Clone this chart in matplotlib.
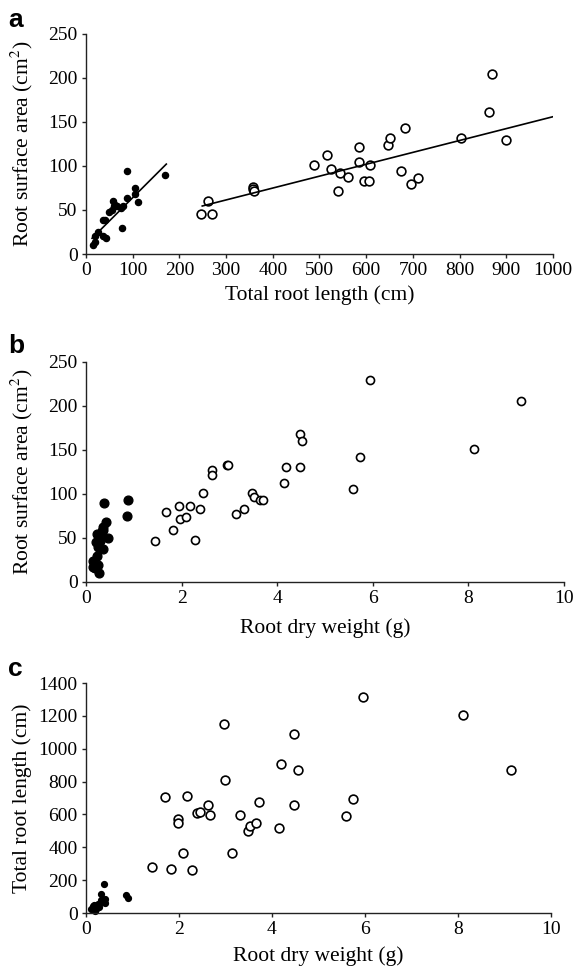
import numpy as np
import matplotlib
matplotlib.use('Agg')
import matplotlib.pyplot as plt

plt.rcParams['font.family'] = 'Liberation Serif'
plt.rcParams['mathtext.fontset'] = 'stix'

# Panel a: root length (cm) vs surface area (cm2)
a_closed_len = [14, 19, 19, 26, 37, 41, 36, 42, 50, 55, 57, 62, 66, 59, 76, 79, 77, 87, 87, 105, 105, 112, 169]
a_closed_area = [10, 14, 21, 25, 39, 39, 20, 18, 48, 50, 60, 56, 54, 54, 52, 55, 30, 94, 64, 75, 68, 59, 90]
a_open_len = [247, 262, 269, 357, 357, 360, 489, 517, 524, 544, 540, 562, 585, 585, 595, 606, 609,
              646, 650, 674, 683, 697, 712, 804, 862, 869, 900]
a_open_area = [46, 60, 46, 76, 74, 72, 101, 112, 97, 92, 72, 87, 122, 105, 83, 83, 101,
               124, 132, 94, 143, 79, 86, 132, 161, 205, 130]
# regression lines: slope, intercept, x range
a_closed_fit = (0.53, 11.0, 13, 172)
a_open_fit = (0.1351, 20.9, 249, 1000)

# Panel b: root dry weight (g) vs surface area (cm2)
b_closed_wt = [0.38, 0.88, 0.85, 0.41, 0.35, 0.22, 0.47, 0.29, 0.26, 0.35, 0.22, 0.15, 0.15, 0.26,
               0.28, 0.19, 0.33, 0.36, 0.28, 0.21]
b_closed_area = [90, 93, 75, 68, 59, 55, 50, 47, 40, 38, 30, 24, 17, 19, 10, 16, 58, 62, 51, 45]
b_open_wt = [1.44, 1.68, 1.81, 1.94, 1.97, 2.09, 2.18, 2.29, 2.38, 2.45, 2.64, 2.64, 2.94, 2.98,
             3.14, 3.31, 3.47, 3.51, 3.64, 3.71, 4.14, 4.18, 4.48, 4.51, 4.48, 5.58, 5.74, 5.95,
             8.11, 9.11]
b_open_area = [46, 79, 59, 86, 72, 74, 86, 48, 83, 101, 127, 122, 133, 133, 77, 83, 101, 97, 93,
               93, 113, 131, 168, 160, 131, 106, 142, 229, 151, 206]

# Panel c: root dry weight (g) vs total root length (cm)
c_closed_wt = [0.39, 0.33, 0.40, 0.85, 0.91, 0.36, 0.25, 0.18, 0.15, 0.22, 0.29, 0.20, 0.41, 0.33,
               0.16, 0.11]
c_closed_len = [176, 118, 87, 107, 93, 67, 57, 47, 32, 26, 37, 12, 61, 77, 41, 26]
c_open_wt = [1.43, 1.71, 1.83, 1.98, 1.98, 2.08, 2.18, 2.28, 2.38, 2.45, 2.63, 2.67, 2.97, 3.00,
             3.13, 3.31, 3.48, 3.52, 3.66, 3.72, 4.16, 4.20, 4.47, 4.47, 4.55, 5.60, 5.74, 5.95,
             8.10, 9.13]
c_open_len = [278, 704, 268, 570, 546, 365, 712, 260, 607, 617, 655, 594, 1148, 809, 365, 596,
              499, 530, 548, 673, 519, 907, 1089, 655, 868, 588, 694, 1315, 1207, 868]


def style_axes(ax):
    ax.spines['top'].set_visible(False)
    ax.spines['right'].set_visible(False)
    for s in ['left', 'bottom']:
        ax.spines[s].set_linewidth(1.0)
        ax.spines[s].set_color('#222222')
    ax.tick_params(direction='out', length=3, width=1.0, labelsize=14, pad=3, color='#222222')


def open_pts(ax, x, y, ms=6.2):
    ax.plot(x, y, 'o', ls='none', mfc='white', mec='black', mew=1.2, ms=ms, clip_on=False)


def closed_pts(ax, x, y, ms=4.4):
    ax.plot(x, y, 'o', ls='none', color='black', ms=ms, clip_on=False)


fig = plt.figure(figsize=(5.74, 9.68), dpi=100)

# a
ax = fig.add_axes([0.1498, 0.7376, 0.8136, 0.2273])
closed_pts(ax, a_closed_len, a_closed_area, ms=4.4)
open_pts(ax, a_open_len, a_open_area, ms=6.3)
for slope, icpt, x0, x1 in [a_closed_fit, a_open_fit]:
    xl = np.array([x0, x1])
    ax.plot(xl, slope * xl + icpt, color='black', lw=1.2)
ax.set_xlim(0, 1000)
ax.set_ylim(0, 250)
ax.set_xticks(np.arange(0, 1001, 100))
ax.set_yticks(np.arange(0, 251, 50))
style_axes(ax)
ax.set_xlabel('Total root length (cm)', fontsize=15.5, va='center')
ax.xaxis.set_label_coords(0.5, -0.185)
ax.set_ylabel('Root surface area (cm$^2$)', fontsize=15.5, va='center')
ax.yaxis.set_label_coords(-0.137, 0.5)

# b
ax = fig.add_axes([0.1498, 0.3988, 0.8328, 0.2273])
closed_pts(ax, b_closed_wt, b_closed_area, ms=6.3)
open_pts(ax, b_open_wt, b_open_area, ms=5.8)
ax.set_xlim(0, 10)
ax.set_ylim(0, 250)
ax.set_xticks(np.arange(0, 11, 2))
ax.set_yticks(np.arange(0, 251, 50))
style_axes(ax)
ax.set_xlabel('Root dry weight (g)', fontsize=15.5, va='center')
ax.xaxis.set_label_coords(0.5, -0.21)
ax.set_ylabel('Root surface area (cm$^2$)', fontsize=15.5, va='center')
ax.yaxis.set_label_coords(-0.134, 0.5)

# c
ax = fig.add_axes([0.1498, 0.0568, 0.8101, 0.2376])
closed_pts(ax, c_closed_wt, c_closed_len, ms=4.2)
open_pts(ax, c_open_wt, c_open_len, ms=6.3)
ax.set_xlim(0, 10)
ax.set_ylim(0, 1400)
ax.set_xticks(np.arange(0, 11, 2))
ax.set_yticks(np.arange(0, 1401, 200))
style_axes(ax)
ax.set_xlabel('Root dry weight (g)', fontsize=15.5, va='center')
ax.xaxis.set_label_coords(0.5, -0.187)
ax.set_ylabel('Total root length (cm)', fontsize=15.5, va='center')
ax.yaxis.set_label_coords(-0.1376, 0.5)

# panel letters
for letter, ybase in [('a', 27), ('b', 353), ('c', 676)]:
    fig.text(8 / 574, 1 - ybase / 968, letter, fontsize=19, fontweight='bold',
             family='Liberation Sans', ha='left', va='baseline')

fig.savefig('out.png', dpi=100)
